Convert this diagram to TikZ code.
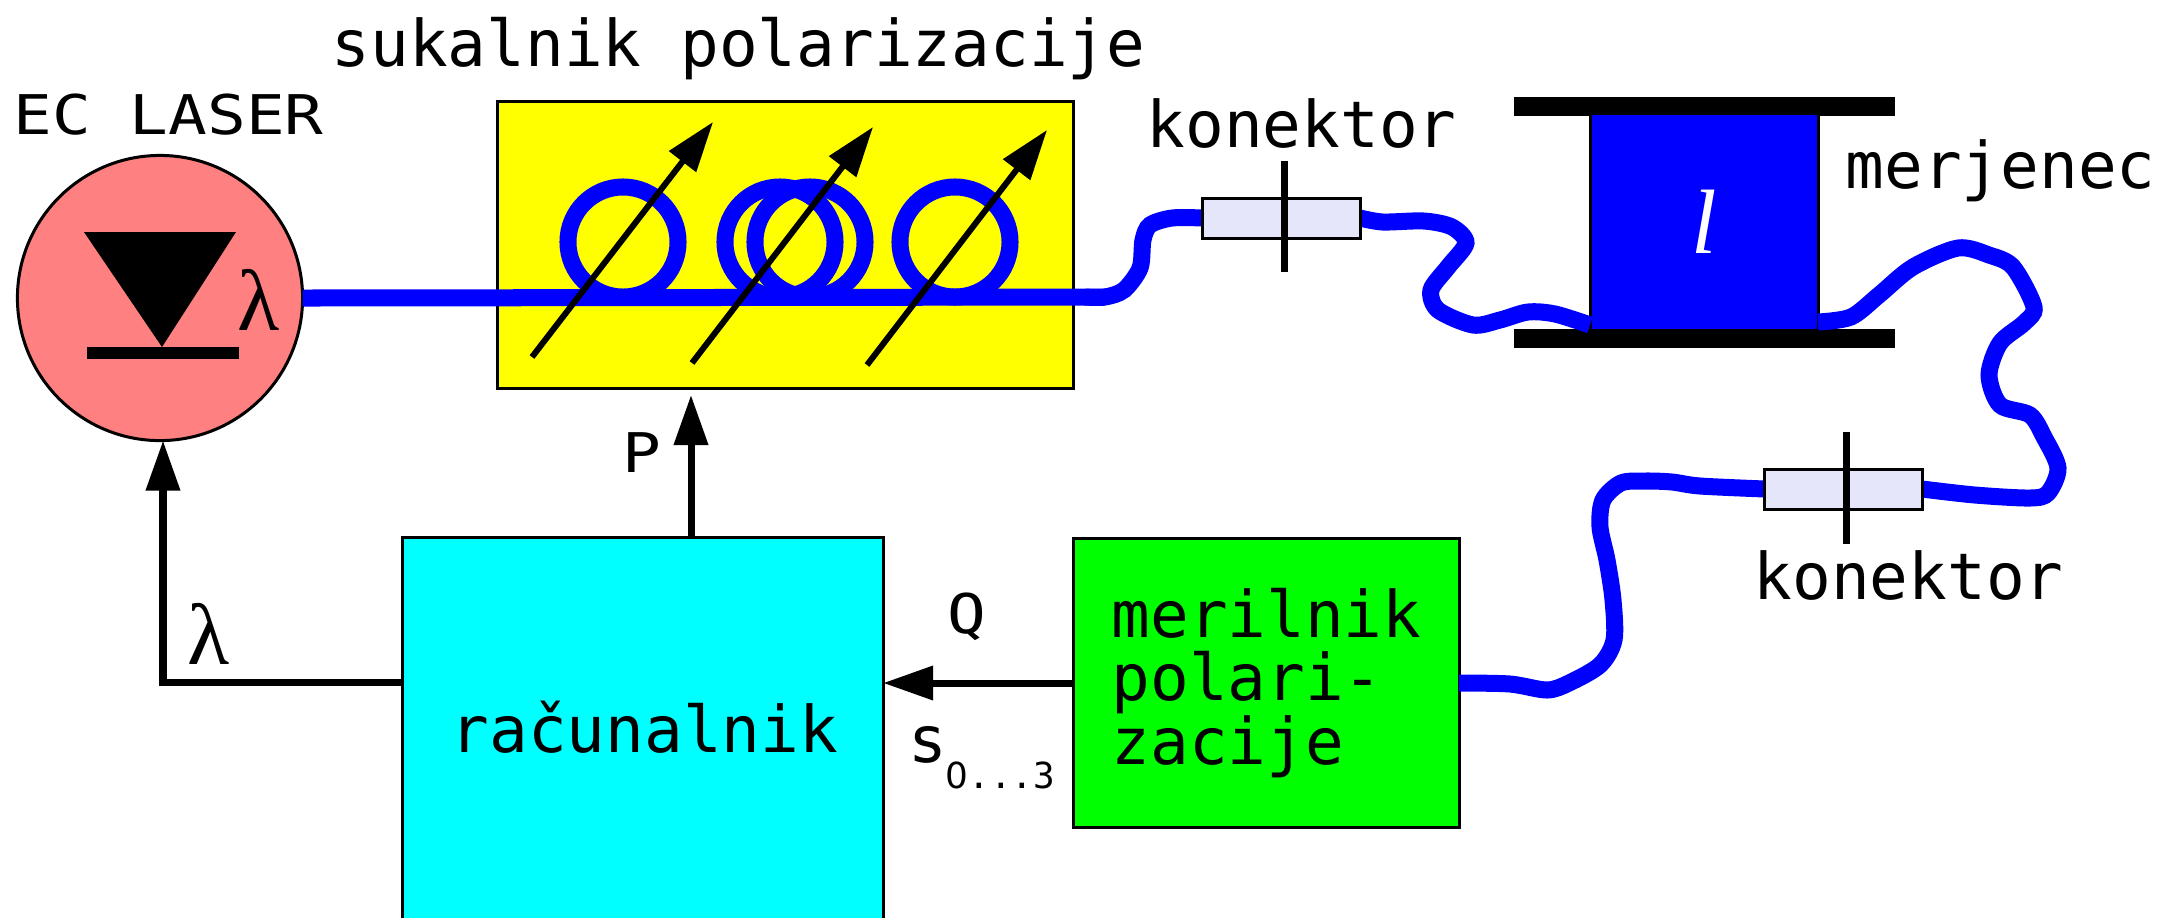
\documentclass[tikz,border=0pt]{standalone}
\usepackage{fontspec}
\setmainfont{Liberation Serif}
\setmonofont{DejaVu Sans Mono}
\newfontfamily\capsfont[Scale=0.85,FakeStretch=1.176]{DejaVu Sans Mono}
\newfontfamily\zerofont{DejaVu Sans}
\usepackage{tikz}
\usetikzlibrary{arrows.meta, calc}
\definecolor{pureyellow}{RGB}{255,255,0}
\definecolor{purecyan}{RGB}{0,255,255}
\definecolor{lasered}{RGB}{255,128,128}
\definecolor{conlav}{RGB}{230,230,250}
\tikzset{
    boxnode/.style={draw, line width=0.03cm, inner sep=0pt, outer sep=0pt},
    conbox/.style={boxnode, fill=conlav, minimum width=1.57cm, minimum height=0.40cm},
    fiber/.style={blue, line width=0.17cm},
    signal/.style={line width=0.07cm, -{Triangle[length=0.5cm, width=0.33cm]}},
    conbar/.style={line width=0.07cm},
    lbl/.style={anchor=base west, inner sep=0pt},
    sublbl/.style={lbl, font=\fontsize{10.2}{12}\selectfont\ttfamily},
    lam/.style={inner sep=0pt, font=\fontsize{24.7}{26}\selectfont\rmfamily}
}

\begin{document}
\begin{tikzpicture}[x=0.01cm, y=-0.01cm, font=\fontsize{18.3}{18.07}\selectfont\ttfamily, >=stealth, every node/.style={align=left}]
    \useasboundingbox ({0},{0}) rectangle ({2160},{917});
    \clip ({0},{0}) rectangle ({2160},{917});

    \node[boxnode, circle, fill=lasered, minimum size=2.85cm] (laser) at ({160},{298}) {};
    \fill ({84},{232}) -- ({236},{232}) -- ({162},{347}) -- cycle;
    \fill ({87},{347}) rectangle ({239},{359});
    \node[lam] (lamlaser) at ({259},{300}) {λ};
    \node[lbl, font=\capsfont\fontsize{18.3}{18.07}\selectfont] (laserlbl) at ({13},{134}) {EC LASER};

    \node[boxnode, fill=pureyellow, minimum width=5.75cm, minimum height=2.86cm] (sukalnik) at ({785.5},{245}) {};
    \node[lbl] (sukalniklbl) at ({331},{66}) {sukalnik polarizacije};
    \foreach \x in {623,780,810,955}
        \draw[fiber] ({\x},{242}) circle[radius=0.55cm];

    \node[conbox] (kon1) at ({1281.5},{218}) {};
    \node[conbox] (kon2) at ({1843.5},{489}) {};
    \node[lbl] (kon1lbl) at ({1146},{147}) {konektor};
    \node[lbl] (kon2lbl) at ({1753},{599}) {konektor};

    \node[boxnode, fill=black, minimum width=3.77cm, minimum height=0.16cm] (spooltop) at ({1704.5},{106}) {};
    \node[boxnode, fill=black, minimum width=3.77cm, minimum height=0.16cm] (spoolbot) at ({1704.5},{338}) {};
    \node[boxnode, fill=blue, minimum width=2.27cm, minimum height=2.16cm, text=white, font=\fontsize{26}{28}\selectfont\rmfamily\itshape] (merjenec) at ({1704.5},{222}) {l};
    \node[lbl] (merjeneclbl) at ({1845},{188}) {merjenec};

    \node[boxnode, fill=purecyan, minimum width=4.80cm, minimum height=3.87cm] (racunalnik) at ({643},{731}) {};
    \node[lbl] (racunalniklbl) at ({450},{752}) {računalnik};
    \node[boxnode, fill=green, minimum width=3.85cm, minimum height=2.88cm] (merilnik) at ({1266.5},{683}) {merilnik\\polari-\\zacije};

    \coordinate (bend) at ({1105},{297});
    \draw[fiber] (laser.east) -- (bend);
    \draw[fiber] plot[smooth] coordinates {(1085,297) (bend) (1124,290) (1140,268) (1143,240) (1150,225) (1172,218) (kon1.west)};
    \draw[fiber] plot[smooth] coordinates {(kon1.east) (1383,222) (1424,221) (1452,227) (1466,243) (1448,267) (1431,290) (1438,310) (1473,325) (1500,320) (1528,312) (1555,314) (1590,325)};
    \draw[fiber] plot[smooth] coordinates {(1818,322) (1851,317) (1879,295) (1913,267) (1958,248) (1989,255) (2013,267) (2034,307) (2024,323) (2000,343) (1989,375) (2000,405) (2030,415) (2044,437) (2058,468) (2048,493) (2030,498) (1975,495) (kon2.east)};
    \draw[fiber] plot[smooth] coordinates {(kon2.west) (1700,486) (1672,482) (1645,481) (1621,483) (1603,500) (1600,527) (1607,560) (1613,600) (1614,640) (1600,665) (1569,683) (1547,690) (1510,684) (merilnik.east)};

    \node[conbox] (kon1top) at (kon1) {};
    \node[conbox] (kon2top) at (kon2) {};
    \draw[conbar] ({1284},{161}) -- ({1284},{272});
    \draw[conbar] ({1846},{432}) -- ({1846},{544});

    \foreach \i/\ax/\ay/\bx/\by in {1/532/357/713/122, 2/692/363/873/127, 3/867/365/1047/130} {
        \coordinate (tune\i a) at ({\ax},{\ay});
        \coordinate (tune\i b) at ({\bx},{\by});
        \draw[line width=0.06cm, -{Triangle[length=0.5cm, width=0.33cm]}] (tune\i a) -- (tune\i b);
    }

    \coordinate (ptip) at ({691},{395});
    \coordinate (lamcorner) at ({163},{682});
    \draw[signal] (racunalnik.north -| ptip) -- (ptip);
    \draw[signal] (racunalnik.west |- lamcorner) -- (lamcorner) -- (laser.south -| lamcorner);
    \draw[signal] (merilnik.west) -- (merilnik.west -| racunalnik.east);

    \node[lbl, font=\capsfont\fontsize{18.3}{18.07}\selectfont] (plbl) at ({622},{472}) {P};
    \node[lam] (lamlbl) at ({209},{634}) {λ};
    \node[lbl, font=\capsfont\fontsize{18.3}{18.07}\selectfont] (qlbl) at ({947},{633}) {Q};
    \node[lbl] (slbl) at ({908},{762}) {s};
    \node[sublbl] (sublbl) at ({945},{788}) {{\zerofont 0}...3};
\end{tikzpicture}
\end{document}
